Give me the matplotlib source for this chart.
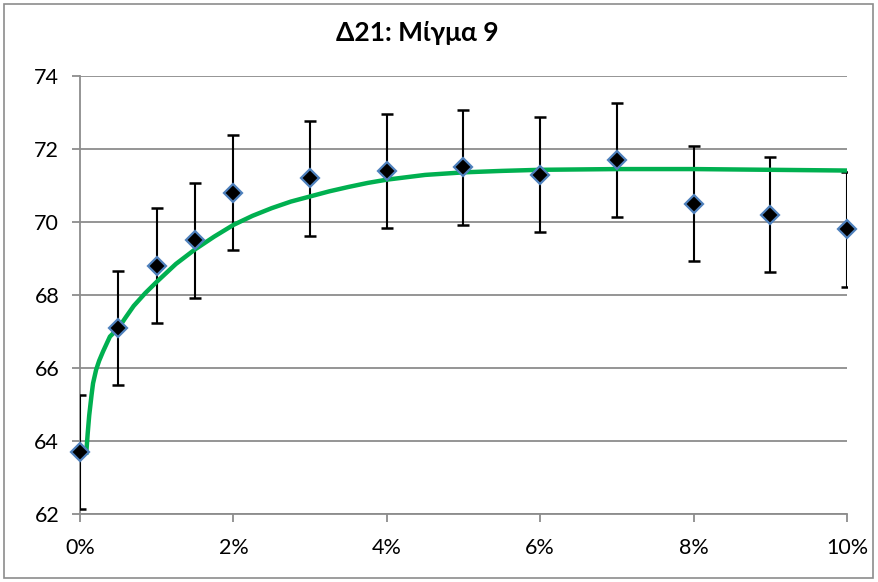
import numpy as np
import matplotlib
matplotlib.use('Agg')
import matplotlib.pyplot as plt
from matplotlib.ticker import FuncFormatter, MultipleLocator
from matplotlib.patches import Rectangle

plt.rcParams['font.family'] = ['Lato', 'DejaVu Sans']

# Μετρήσεις (ποσοστό προσθέτου, τιμή)
pct = [0, 0.5, 1, 1.5, 2, 3, 4, 5, 6, 7, 8, 9, 10]
val = [63.7, 67.1, 68.8, 69.5, 70.8, 71.2, 71.4, 71.5, 71.3, 71.7, 70.5, 70.2, 69.8]
err = 1.57

# Γραμμή τάσης
trend_x = [0.08, 0.1, 0.12, 0.15, 0.17, 0.21, 0.25, 0.3, 0.39, 0.5, 0.6, 0.7, 0.85,
           1, 1.25, 1.5, 1.75, 2, 2.25, 2.5, 2.75, 3, 3.25, 3.5, 3.75, 4, 4.5,
           5, 5.5, 6, 7, 8, 9, 10]
trend_y = [63.62, 64.2, 64.7, 65.25, 65.58, 65.95, 66.2, 66.45, 66.86, 67.09, 67.4,
           67.7, 68.05, 68.36, 68.85, 69.25, 69.6, 69.92, 70.17, 70.38, 70.56, 70.7,
           70.84, 70.96, 71.07, 71.16, 71.29, 71.36, 71.4, 71.43, 71.45, 71.45,
           71.43, 71.41]

fig = plt.figure(figsize=(8.79, 5.82), dpi=100)
ax = fig.add_axes([80/879, 1-514/582, 767/879, 438/582])

# πλαίσιο γραφήματος
fig.patches.append(Rectangle((4/879, 4/582), 869/879, 574/582, transform=fig.transFigure,
                             fill=False, edgecolor='#8c8c8c', lw=1.2))

ax.set_xlim(0, 10)
ax.set_ylim(62, 74)
ax.yaxis.set_major_locator(MultipleLocator(2))
ax.xaxis.set_major_locator(MultipleLocator(2))
ax.xaxis.set_major_formatter(FuncFormatter(lambda v, p: '%d%%' % v))
ax.grid(axis='y', color='#8c8c8c', lw=1.3)
ax.set_axisbelow(True)

for s in ['top', 'right']:
    ax.spines[s].set_visible(False)
for s in ['left', 'bottom']:
    ax.spines[s].set_color('#8c8c8c')
    ax.spines[s].set_linewidth(1.3)
ax.tick_params(axis='both', colors='#8c8c8c', length=6, width=1.3, labelcolor='black',
               labelsize=15.5)
ax.tick_params(axis='y', pad=9)
ax.tick_params(axis='x', pad=11)

ax.errorbar(pct, val, yerr=err, fmt='none', ecolor='black', elinewidth=1.5,
            capsize=4.3, capthick=1.8, zorder=3)
ax.plot(trend_x, trend_y, color='#00b050', lw=3.2, solid_capstyle='butt',
        solid_joinstyle='round', zorder=4)
ax.plot(pct, val, 'D', ms=9, mfc='black', mec='#4f81bd', mew=1.6, zorder=5,
        clip_on=False)

fig.text(0.475, 0.943, 'Δ21: Μίγμα 9', ha='center', va='center', fontsize=19,
         fontweight='bold')

fig.savefig('out.png', dpi=100)
